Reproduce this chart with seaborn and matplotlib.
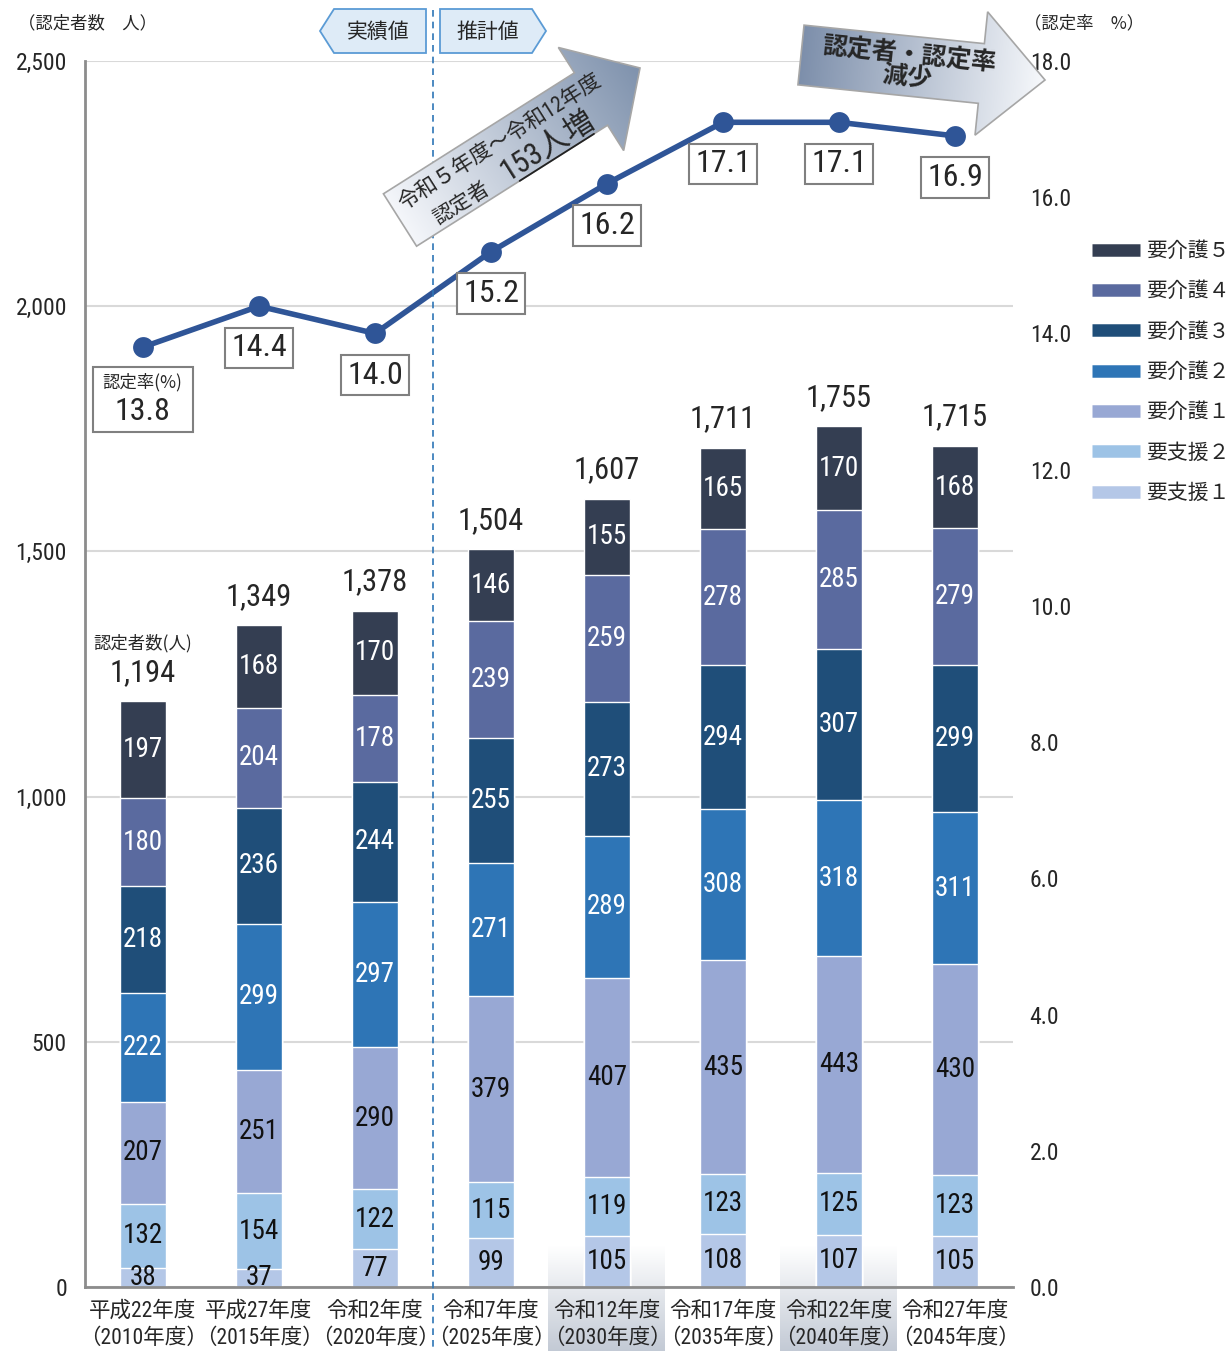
import numpy as np
import pandas as pd
import matplotlib
matplotlib.use('Agg')
import matplotlib.pyplot as plt
import seaborn as sns
from matplotlib import font_manager
from matplotlib.patches import Polygon, Rectangle
from matplotlib.lines import Line2D
from matplotlib.colors import LinearSegmentedColormap

# ---- data ----
years = ['平成22年度\n（2010年度）', '平成27年度\n（2015年度）', '令和2年度\n（2020年度）',
         '令和7年度\n（2025年度）', '令和12年度\n（2030年度）', '令和17年度\n（2035年度）',
         '令和22年度\n（2040年度）', '令和27年度\n（2045年度）']
shien1 = [38, 37, 77, 99, 105, 108, 107, 105]
shien2 = [132, 154, 122, 115, 119, 123, 125, 123]
kaigo1 = [207, 251, 290, 379, 407, 435, 443, 430]
kaigo2 = [222, 299, 297, 271, 289, 308, 318, 311]
kaigo3 = [218, 236, 244, 255, 273, 294, 307, 299]
kaigo4 = [180, 204, 178, 239, 259, 278, 285, 279]
kaigo5 = [197, 168, 170, 146, 155, 165, 170, 168]
totals = [1194, 1349, 1378, 1504, 1607, 1711, 1755, 1715]
rate = [13.8, 14.4, 14.0, 15.2, 16.2, 17.1, 17.1, 16.9]

levels = ['要支援1', '要支援2', '要介護1', '要介護2', '要介護3', '要介護4', '要介護5']
legend_labels = ['要支援１', '要支援２', '要介護１', '要介護２', '要介護３', '要介護４', '要介護５']
colors = ['#b4c7e7', '#9dc3e6', '#98a8d4', '#2e75b6', '#1f4e79', '#5a6a9f', '#343e52']
text_colors = ['#111111', '#111111', '#111111', 'white', 'white', 'white', 'white']

df = pd.DataFrame({'pos': np.arange(len(years)), '要支援1': shien1, '要支援2': shien2,
                   '要介護1': kaigo1, '要介護2': kaigo2, '要介護3': kaigo3,
                   '要介護4': kaigo4, '要介護5': kaigo5})
cum = df[levels].cumsum(axis=1)

# ---- fonts ----
sns.set_theme(style='white')
names = {f.name for f in font_manager.fontManager.ttflist}
narrow = next((f for f in ['Roboto Condensed', 'Liberation Sans Narrow', 'Archivo Narrow',
                           'PT Sans Narrow', 'Liberation Sans'] if f in names), 'DejaVu Sans')
NUM = [narrow, 'Noto Sans CJK JP', 'DejaVu Sans']
JP = ['Noto Sans CJK JP', 'DejaVu Sans']
plt.rcParams['font.family'] = NUM
plt.rcParams['axes.unicode_minus'] = False

W, H = 1232, 1351
fig = plt.figure(figsize=(W / 100, H / 100), dpi=100)
fig.patch.set_facecolor('white')

# background layer (label shading)
bg = fig.add_axes([0, 0, 1, 1], zorder=0)
bg.axis('off')
shade = LinearSegmentedColormap.from_list('shade', ['#ffffff', '#c3cad5'])
grad_v = np.linspace(0, 1, 100).reshape(-1, 1)
for x0 in (548, 780):
    bg.imshow(grad_v, cmap=shade, extent=(x0, x0 + 117, H, 1245), origin='upper', aspect='auto')
bg.set_xlim(0, W)
bg.set_ylim(H, 0)

ax = fig.add_axes([85 / W, 64 / H, 928 / W, 1226 / H], zorder=1)
ax.patch.set_alpha(0)

# stacked bars: draw cumulative heights from the top level down
for lev, col in reversed(list(zip(levels, colors))):
    sns.barplot(x=df['pos'], y=cum[lev], color=col, width=0.4, saturation=1,
                edgecolor='white', linewidth=1, errorbar=None, ax=ax)

for k, lev in enumerate(levels):
    for i in range(len(years)):
        v = df[lev][i]
        ax.text(i, cum[lev][i] - v / 2, str(v), ha='center', va='center',
                fontsize=19.5, color=text_colors[k], family=NUM)

for i, t in enumerate(totals):
    ax.annotate(f'{t:,}', xy=(i, t), xytext=(0, 21), textcoords='offset points',
                ha='center', va='center', fontsize=22, family=NUM)
ax.annotate('認定者数(人)', xy=(0, totals[0]), xytext=(0, 42), textcoords='offset points',
            ha='center', va='center', fontsize=12.5, family=JP)

ax.set_xlim(-0.5, 7.5)
ax.set_ylim(0, 2500)
ax.set_yticks(range(0, 2501, 500))
ax.set_yticklabels([f'{v:,}' for v in range(0, 2501, 500)], fontsize=17)
ax.set_xticks(range(len(years)))
ax.set_xticklabels(years, fontsize=15.5, linespacing=1.35)
ax.tick_params(axis='y', length=0, pad=13)
ax.tick_params(axis='x', length=0, pad=10)
ax.set_xlabel('')
ax.set_ylabel('')
ax.yaxis.grid(True, color='#d9d9d9', lw=1.5)
ax.set_axisbelow(True)
for s in ('top', 'right'):
    ax.spines[s].set_visible(False)
for s in ('left', 'bottom'):
    ax.spines[s].set_color('#8c8c8c')
    ax.spines[s].set_linewidth(2)

# rate line
ax2 = ax.twinx()
ax2.set_zorder(2)
ax2.patch.set_alpha(0)
sns.lineplot(x=np.arange(len(rate)), y=rate, ax=ax2, color='#2f5597', lw=4,
             marker='o', markersize=15, markeredgewidth=0)
ax2.set_ylim(0, 18)
ax2.set_yticks(np.arange(0, 18.1, 2))
ax2.set_yticklabels([f'{v:.1f}' for v in np.arange(0, 18.1, 2)], fontsize=17)
ax2.tick_params(axis='y', length=0, pad=12)
for s in ax2.spines.values():
    s.set_visible(False)
for i, r in enumerate(rate):
    if i == 0:
        continue
    ax2.annotate(f'{r:.1f}', xy=(i, r), xytext=(0, -30), textcoords='offset points',
                 ha='center', va='center', fontsize=23, family=NUM,
                 bbox=dict(boxstyle='square,pad=0.18', fc='white', ec='#808080', lw=1.5))

# ---- overlay: arrows, headers, legend ----
ov = fig.add_axes([0, 0, 1, 1], zorder=3)
ov.axis('off')

ov.add_patch(Rectangle((93, 367), 100, 65, fc='white', ec='#808080', lw=1.5))
ov.text(142, 382, '認定率(%)', ha='center', va='center', fontsize=12.5, family=JP)
ov.text(142, 412, f'{rate[0]:.1f}', ha='center', va='center', fontsize=23, family=NUM)

ov.plot([433, 433], [10, H], color='#2e75b6', lw=1.2, dashes=(4, 3))

ov.add_patch(Polygon([(320, 31), (334, 9), (426, 9), (426, 53), (334, 53)],
                     fc='#deebf7', ec='#5b9bd5', lw=1.3))
ov.add_patch(Polygon([(440, 9), (532, 9), (546, 31), (532, 53), (440, 53)],
                     fc='#deebf7', ec='#5b9bd5', lw=1.3))
ov.text(378, 32, '実績値', ha='center', va='center', fontsize=15, family=JP)
ov.text(488, 32, '推計値', ha='center', va='center', fontsize=15, family=JP)

ov.text(18, 23, '（認定者数　人）', ha='left', va='center', fontsize=12.5, family=JP)
ov.text(1024, 23, '（認定率　%）', ha='left', va='center', fontsize=12.5, family=JP)


def grad_arrow(tail, tip, w, hw, hl, c_tail, c_tip):
    tail = np.array(tail, float)
    tip = np.array(tip, float)
    d = tip - tail
    L = np.hypot(*d)
    u = d / L
    n = np.array([-u[1], u[0]])
    base = tip - u * hl
    pts = np.array([tail + n * w / 2, base + n * w / 2, base + n * hw / 2, tip,
                    base - n * hw / 2, base - n * w / 2, tail - n * w / 2])
    poly = Polygon(pts, closed=True, fc='none', ec='#a6a6a6', lw=1.2, zorder=3)
    ov.add_patch(poly)
    x0, y0 = pts.min(0)
    x1, y1 = pts.max(0)
    X, Y = np.meshgrid(np.linspace(x0, x1, 300), np.linspace(y0, y1, 300))
    t = ((X - tail[0]) * u[0] + (Y - tail[1]) * u[1]) / L
    cmap = LinearSegmentedColormap.from_list('g', [c_tail, c_tip])
    im = ov.imshow(t, cmap=cmap, vmin=0, vmax=1, extent=(x0, x1, y1, y0),
                   origin='upper', aspect='auto', zorder=2)
    im.set_clip_path(poly)
    return u, n


tail1 = np.array([400, 220])
u1, n1 = grad_arrow(tail1, (640, 68), 62, 122, 58, '#f4f6fa', '#7f92ad')
ang1 = np.degrees(np.arctan2(-u1[1], u1[0]))
p = tail1 + 126 * u1 - 12 * n1
ov.text(p[0], p[1], '令和５年度～令和12年度', rotation=ang1, rotation_mode='anchor',
        ha='center', va='center', fontsize=15.5, family=NUM, zorder=4)
p = tail1 + 61 * u1 + 19 * n1
ov.text(p[0], p[1], '認定者', rotation=ang1, rotation_mode='anchor',
        ha='center', va='center', fontsize=15, family=NUM, zorder=4)
p = tail1 + 165 * u1 + 16 * n1
ov.text(p[0], p[1], '153人増', rotation=ang1, rotation_mode='anchor',
        ha='center', va='center', fontsize=22, family=NUM, zorder=4)
a = tail1 + 122 * u1 + 31 * n1
b = tail1 + 210 * u1 + 31 * n1
ov.plot([a[0], b[0]], [a[1], b[1]], color='#222222', lw=1.3, zorder=4)

tail2 = np.array([801, 55])
u2, n2 = grad_arrow(tail2, (1045, 80), 60, 124, 64, '#7d8fab', '#f7f9fc')
ang2 = np.degrees(np.arctan2(-u2[1], u2[0]))
p = tail2 + 108 * u2
ov.text(p[0], p[1], '認定者・認定率\n減少', rotation=ang2, rotation_mode='anchor',
        ha='center', va='center', fontsize=18, fontweight='bold', linespacing=0.95,
        family=JP, zorder=4)

ov.set_xlim(0, W)
ov.set_ylim(H, 0)

handles = [Line2D([], [], color=c, lw=9, solid_capstyle='butt') for c in reversed(colors)]
fig.legend(handles, list(reversed(legend_labels)), loc='upper left',
           bbox_to_anchor=(1092 / W, 1 - 240 / H), frameon=False,
           prop={'family': JP, 'size': 15}, handlelength=2.3,
           handletextpad=0.3, labelspacing=0.88, borderpad=0, borderaxespad=0)

fig.savefig('out.png', dpi=100)
